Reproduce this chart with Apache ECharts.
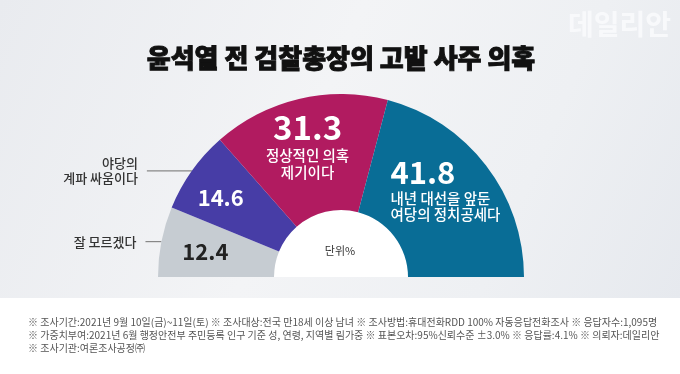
<!DOCTYPE html>
<html><head><meta charset="utf-8">
<script src="https://cdn.jsdelivr.net/npm/echarts@6/dist/echarts.min.js"></script>
<style>html,body{margin:0;padding:0;background:#fff}#c{width:680px;height:374px}</style>
</head><body><div id="c"></div>
<script>
var categories = ['잘 모르겠다', '야당의\n계파 싸움이다', '정상적인 의혹\n제기이다', '내년 대선을 앞둔\n여당의 정치공세다'];
var values = [12.4, 14.6, 31.3, 41.8];
var colors = ['#c6ccd2', '#473da6', '#b11b60', '#096d96'];
var title = '윤석열 전 검찰총장의 고발 사주 의혹';
var unitLabel = '단위%';
var notes = [
  '※ 조사기간:2021년 9월 10일(금)~11일(토) ※ 조사대상:전국 만18세 이상 남녀 ※ 조사방법:휴대전화RDD 100% 자동응답전화조사 ※ 응답자수:1,095명',
  '※ 가중치부여:2021년 6월 행정안전부 주민등록 인구 기준 성, 연령, 지역별 림가중 ※ 표본오차:95%신뢰수준 ±3.0% ※ 응답률:4.1% ※ 의뢰자:데일리안',
  '※ 조사기관:여론조사공정㈜'
];
var FONT = '"Noto Sans CJK KR", "Noto Sans", sans-serif';

var chart = echarts.init(document.getElementById('c'));
var center = [341, 277];
var radius = [67, 183];
var total = values.reduce(function (a, b) { return a + b; }, 0);

// inside value labels
var innerData = values.map(function (v, i) {
  var item = { value: v, name: categories[i], itemStyle: { color: colors[i] } };
  var lbl = { show: true, position: 'inside' };
  if (i === 0) {
    lbl.formatter = '{d|' + v.toFixed(1) + '}';
    lbl.offset = [-10, -1];
  } else if (i === 1) {
    lbl.formatter = '{w|' + v.toFixed(1) + '}';
    lbl.offset = [-16, -5];
  } else if (i === 2) {
    var p = categories[i].split('\n');
    lbl.formatter = '{big|' + v.toFixed(1) + '}\n{t|' + p[0] + '}\n{t|' + p[1] + '}';
    lbl.offset = [-4, -8];
  } else {
    var q = categories[i].split('\n');
    lbl.formatter = '{big2|' + v.toFixed(1) + '}\n{tl|' + q[0] + '}\n{tl|' + q[1] + '}';
    lbl.offset = [3, -11];
  }
  item.label = lbl;
  return item;
});

// outside category labels for left items
var outerData = values.map(function (v, i) {
  var item = { value: v, name: categories[i] };
  if (i === 0) {
    item.label = { show: true, formatter: categories[i] };
    item.labelLine = { show: true, length: 0, length2: 16 };
  } else if (i === 1) {
    item.label = { show: true, formatter: categories[i], padding: [0, 0, 14, 0] };
    item.labelLine = { show: true, length: 0, length2: 45 };
  } else {
    item.label = { show: false };
    item.labelLine = { show: false };
  }
  return item;
});

var option = {
  animation: false,
  graphic: [
    { type: 'rect', shape: { x: 0, y: 0, width: 680, height: 298 }, silent: true, z: -10,
      style: { fill: new echarts.graphic.LinearGradient(0, 0, 1, 1, [
        { offset: 0, color: '#e9ebef' }, { offset: 0.45, color: '#f3f4f6' },
        { offset: 0.75, color: '#eef0f3' }, { offset: 1, color: '#e6e9ee' }]) } },
    { type: 'rect', shape: { x: 0, y: 298, width: 680, height: 76 }, silent: true, z: -10, style: { fill: '#ffffff' } },
    { type: 'text', left: 568, top: 10, silent: true,
      style: { text: '데일리안', font: '700 28px ' + FONT, fill: '#f8f9fb', shadowColor: 'rgba(0,0,0,0.18)', shadowBlur: 2, shadowOffsetX: 1, shadowOffsetY: 1 } },
    { type: 'text', x: 341, y: 58, silent: true,
      style: { text: title, font: '900 26px ' + FONT, fill: '#111111', stroke: '#111111', lineWidth: 0.9,
               align: 'center', verticalAlign: 'middle' } },
    { type: 'text', x: 340, y: 251, silent: true, z: 10,
      style: { text: unitLabel, font: '400 11px ' + FONT, fill: '#333333', align: 'center', verticalAlign: 'middle' } },
    { type: 'text', x: 28, y: 322, silent: true,
      style: { text: notes[0], font: '400 10px ' + FONT, fill: '#555555', verticalAlign: 'middle' } },
    { type: 'text', x: 28, y: 335, silent: true,
      style: { text: notes[1], font: '400 10px ' + FONT, fill: '#555555', verticalAlign: 'middle' } },
    { type: 'text', x: 28, y: 348, silent: true,
      style: { text: notes[2], font: '400 10px ' + FONT, fill: '#555555', verticalAlign: 'middle' } }
  ],
  series: [
    {
      type: 'pie', center: center, radius: [0, radius[0]], startAngle: 180, endAngle: 0, clockwise: true,
      silent: true, z: 0, label: { show: false }, labelLine: { show: false },
      itemStyle: { color: '#ffffff', borderWidth: 0 },
      data: [{ value: total, name: 'hole' }]
    },
    {
      type: 'pie', center: center, radius: radius, startAngle: 180, endAngle: 0, clockwise: true,
      avoidLabelOverlap: false, silent: true, z: 2,
      itemStyle: { borderWidth: 0 },
      label: {
        fontFamily: FONT,
        rich: {
          d: { fontSize: 22, fontWeight: 700, color: '#222222', fontFamily: FONT },
          w: { fontSize: 22, fontWeight: 700, color: '#ffffff', fontFamily: FONT },
          big: { fontSize: 33, fontWeight: 700, color: '#ffffff', fontFamily: FONT, lineHeight: 40, align: 'center' },
          t: { fontSize: 14.5, fontWeight: 500, color: '#ffffff', fontFamily: FONT, lineHeight: 17, align: 'center' },
          big2: { fontSize: 31, fontWeight: 700, color: '#ffffff', fontFamily: FONT, lineHeight: 38, align: 'left' },
          tl: { fontSize: 14.5, fontWeight: 500, color: '#ffffff', fontFamily: FONT, lineHeight: 16, align: 'left' }
        }
      },
      labelLine: { show: false },
      data: innerData
    },
    {
      type: 'pie', center: center, radius: radius, startAngle: 180, endAngle: 0, clockwise: true,
      avoidLabelOverlap: false, silent: true, z: 1,
      itemStyle: { color: 'rgba(0,0,0,0)', borderWidth: 0 },
      label: { position: 'outside', fontFamily: FONT, fontSize: 13, fontWeight: 500, color: '#333333', lineHeight: 15,
               align: 'right', distanceToLabelLine: 9 },
      labelLine: { lineStyle: { color: '#888888', width: 1.2 }, smooth: false },
      data: outerData
    }
  ]
};
chart.setOption(option);
</script></body></html>
